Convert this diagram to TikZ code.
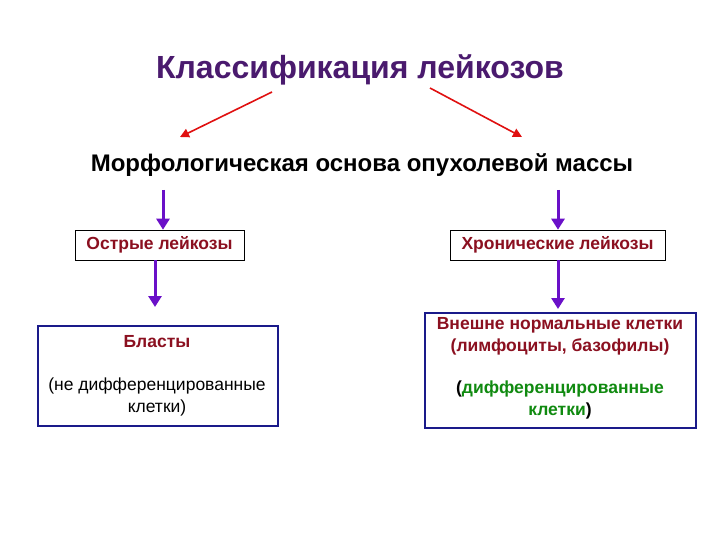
\documentclass[tikz,border=0pt]{standalone}
\usepackage{fontspec}
\setmainfont{Liberation Sans}
\definecolor{ttl}{HTML}{4A1A6E}
\definecolor{dred}{HTML}{8B1020}
\definecolor{arrred}{HTML}{E01010}
\definecolor{arrpur}{HTML}{6A10C8}
\definecolor{navy}{HTML}{1A1A8A}
\definecolor{grn}{HTML}{108A10}
\usetikzlibrary{arrows.meta}
\begin{document}
\begin{tikzpicture}[x=1pt,y=-1pt,
  redarr/.style={draw=arrred,line width=1.6pt,-{Triangle[length=9pt,width=9pt]}},
  purarr/.style={draw=arrpur,line width=3pt,-{Triangle[length=11pt,width=13pt]}},
  bt/.style={font=\bfseries\fontsize{17.5}{22}\selectfont},
  smallbox/.style={draw=black,line width=0.6pt,bt,text=dred,minimum height=30pt,inner sep=4pt},
  bigbox/.style={draw=navy,line width=1.6pt,anchor=north west,inner sep=0pt}]
\useasboundingbox[fill=white] (0,0) rectangle (720,540);
\node[font=\bfseries\fontsize{32}{36}\selectfont,text=ttl] (t) at (360,70) {Классификация лейкозов};
\node[font=\bfseries\fontsize{24}{28}\selectfont] (s) at (362,165) {Морфологическая основа опухолевой массы};
\coordinate (r1a) at (272,92); \coordinate (r1b) at (180,137);
\coordinate (r2a) at (430,88); \coordinate (r2b) at (522,137);
\draw[redarr] (r1a) -- (r1b);
\draw[redarr] (r2a) -- (r2b);
\node[smallbox,minimum width=169pt] (a) at (159.5,245) {Острые лейкозы};
\node[smallbox,minimum width=215pt] (c) at (557.5,245) {Хронические лейкозы};
\coordinate (p1a) at (163,190); \coordinate (p2a) at (558,190);
\draw[purarr] (p1a) -- (a.north -| p1a);
\draw[purarr] (p2a) -- (c.north -| p2a);
\node[bigbox,minimum width=240pt,minimum height=100pt] (b) at (37,325) {};
\node[bigbox,minimum width=271pt,minimum height=115pt] (d) at (424,312) {};
\draw[purarr] (a.south -| 155,0) -- (155,307);
\draw[purarr] (c.south -| 558,0) -- (558,309);
\node[bt,text=dred] (b1) at (157,342) {Бласты};
\node[font=\fontsize{17.5}{22}\selectfont,align=center] (b2) at (157,397) {(не дифференцированные\\клетки)};
\node[bt,text=dred,align=center] (d1) at (560,336) {Внешне нормальные клетки\\(лимфоциты, базофилы)};
\node[bt,align=center] (d2) at (560,400) {(\textcolor{grn}{дифференцированные}\\\textcolor{grn}{клетки})};
\end{tikzpicture}
\end{document}
